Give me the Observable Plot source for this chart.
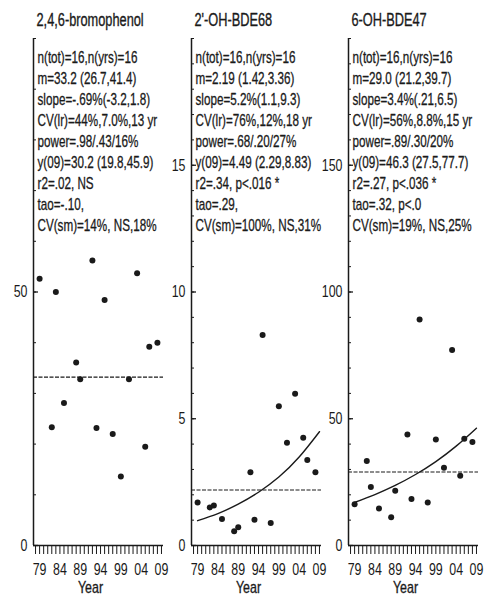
<!DOCTYPE html>
<html>
<head>
<meta charset="utf-8">
<script src="https://cdn.jsdelivr.net/npm/d3@7"></script>
<script src="https://cdn.jsdelivr.net/npm/@observablehq/plot@0.6"></script>
<style>
  html, body { margin: 0; padding: 0; background: #fff; }
  #wrap { position: relative; width: 492px; height: 599px; overflow: hidden; }
  #wrap > div { position: absolute; top: 0; }
</style>
</head>
<body>
<div id="wrap"></div>
<script>
// ---- data ----
const years = [1979, 1982, 1983, 1985, 1988, 1989, 1992, 1993, 1995, 1997, 1999, 2001, 2003, 2005, 2006, 2008];
const bromophenol = [52.6, 23.3, 50.0, 28.1, 36.1, 32.8, 56.2, 23.2, 48.4, 22.0, 13.6, 32.8, 53.7, 19.5, 39.2, 40.0];
const ohBDE68 = [1.70, 1.50, 1.58, 1.05, 0.56, 0.72, 2.89, 1.02, 8.30, 0.89, 5.49, 4.05, 5.99, 4.25, 3.37, 2.89];
const ohBDE47 = [16.3, 33.3, 23.1, 14.6, 11.1, 21.6, 43.8, 18.3, 89.2, 17.0, 41.8, 30.7, 77.1, 27.5, 42.1, 40.8];

const trendYears = [1979, 1984, 1989, 1994, 1999, 2004, 2009];
const trendBDE68 = [0.98, 1.26, 1.63, 2.10, 2.70, 3.49, 4.49];
const trendBDE47 = [17.0, 20.1, 23.7, 28.0, 33.1, 39.2, 46.3];

const means = [33.2, 2.19, 29.0];
const titles = ["2,4,6-bromophenol", "2'-OH-BDE68", "6-OH-BDE47"];

const stats1 = ["n(tot)=16,n(yrs)=16", "m=33.2 (26.7,41.4)", "slope=-.69%(-3.2,1.8)", "CV(lr)=44%,7.0%,13 yr",
  "power=.98/.43/16%", "y(09)=30.2 (19.8,45.9)", "r2=.02, NS", "tao=-.10,", "CV(sm)=14%, NS,18%"];
const stats2 = ["n(tot)=16,n(yrs)=16", "m=2.19 (1.42,3.36)", "slope=5.2%(1.1,9.3)", "CV(lr)=76%,12%,18 yr",
  "power=.68/.20/27%", "y(09)=4.49 (2.29,8.83)", "r2=.34, p<.016 *", "tao=.29,", "CV(sm)=100%, NS,31%"];
const stats3 = ["n(tot)=16,n(yrs)=16", "m=29.0 (21.2,39.7)", "slope=3.4%(.21,6.5)", "CV(lr)=56%,8.8%,15 yr",
  "power=.89/.30/20%", "y(09)=46.3 (27.5,77.7)", "r2=.27, p<.036 *", "tao=.32, p<.0", "CV(sm)=19%, NS,25%"];

const yMax = [100, 20, 200];
const yMajorTicks = [[0, 50], [0, 5, 10, 15], [0, 50, 100, 150]];
const yMinorStep = [10, 1, 10];
const xDomain = [1977.5, 2009.5];
const xTickYears = d3.range(1978, 2010);
const xLabelYears = [1979, 1984, 1989, 1994, 1999, 2004, 2009];
const xLabel = "Year";

// ---- drawing ----
const FONT = "'Liberation Sans', Arial, sans-serif";
const INK = "#1a1a1a";
const panelLeft = [0, 158, 315];

const panels = [
  {values: bromophenol, trend: null, stats: stats1},
  {values: ohBDE68, trend: trendBDE68, stats: stats2},
  {values: ohBDE47, trend: trendBDE47, stats: stats3}
];

const wrap = document.getElementById("wrap");
panels.forEach((p, i) => {
  const pts = years.map((yr, k) => ({year: yr, value: p.values[k]}));
  const marks = [
    Plot.ruleX([xDomain[0]], {stroke: INK, strokeWidth: 1.5}),
    Plot.ruleY([0], {stroke: INK, strokeWidth: 1.5}),
    Plot.axisY({ticks: d3.range(0, yMax[i] + 1e-9, yMinorStep[i]), tickSize: -3, tickFormat: () => "", stroke: INK}),
    Plot.axisY({ticks: yMajorTicks[i], tickSize: -5, tickFormat: () => "", stroke: INK, strokeWidth: 1.3}),
    Plot.axisY({ticks: yMajorTicks[i], tickSize: 0, tickPadding: 6, fontSize: 17, fill: INK,
      stroke: INK, strokeWidth: 0.35}),
    Plot.axisX({ticks: xTickYears, tickSize: 9, tickFormat: () => "", stroke: INK}),
    Plot.axisX({ticks: xLabelYears, tickSize: 0, tickPadding: 17, fontSize: 17, fill: INK,
      stroke: INK, strokeWidth: 0.35, tickFormat: d => String(d).slice(2)}),
    Plot.ruleY([means[i]], {stroke: INK, strokeWidth: 1.2, strokeDasharray: "4,1.5"})
  ];
  if (p.trend) {
    marks.push(Plot.line(trendYears.map((yr, k) => ({year: yr, value: p.trend[k]})),
      {x: "year", y: "value", curve: "natural", stroke: INK, strokeWidth: 1.4}));
  }
  marks.push(
    Plot.dot(pts, {x: "year", y: "value", r: 3, fill: INK, stroke: "none"}),
    Plot.text([titles[i]], {frameAnchor: "top-left", textAnchor: "start", lineAnchor: "top",
      dx: 3, dy: -25, fontSize: 17.5, fill: INK, stroke: INK, strokeWidth: 0.35, ariaLabel: "title"}),
    Plot.text([p.stats.join("\n")], {frameAnchor: "top-left", textAnchor: "start", lineAnchor: "top",
      dx: 4, dy: 10, fontSize: 16, lineHeight: 1.31, fill: INK, stroke: INK, strokeWidth: 0.3, ariaLabel: "stats"}),
    Plot.text([xLabel], {frameAnchor: "bottom", lineAnchor: "top", dx: -8, dy: 35, fontSize: 17, fill: INK,
      stroke: INK, strokeWidth: 0.35, ariaLabel: "xlabel"})
  );
  const chart = Plot.plot({
    width: 168, height: 599,
    marginLeft: 33, marginRight: 5, marginTop: 38, marginBottom: 54,
    x: {domain: xDomain, label: null},
    y: {domain: [0, yMax[i]], label: null},
    style: {background: "transparent", overflow: "visible", fontFamily: FONT, fontSize: "15px", color: INK},
    marks
  });
  const holder = document.createElement("div");
  holder.style.left = panelLeft[i] + "px";
  holder.appendChild(chart);
  wrap.appendChild(holder);
});

// condense text horizontally around each text's anchor (narrow typeface look)
wrap.querySelectorAll("text").forEach(t => {
  const g = t.closest("g[aria-label]");
  const lab = g ? g.getAttribute("aria-label") : "";
  const k = (lab === "title" || lab === "stats") ? 0.82 : 0.73;
  const xa = parseFloat(t.getAttribute("x"));
  const x = (Number.isFinite(xa) && !/em/.test(t.getAttribute("x") || "")) ? xa : 0;
  const tr = t.getAttribute("transform") || "";
  t.setAttribute("transform", `${tr} translate(${x},0) scale(${k},1) translate(${-x},0)`);
});
</script>
</body>
</html>
